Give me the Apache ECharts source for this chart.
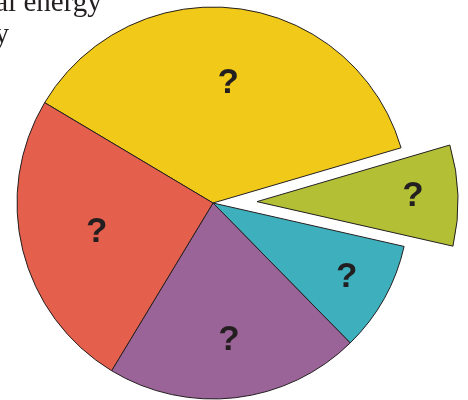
<!DOCTYPE html>
<html>
<head>
<meta charset="utf-8">
<script src="https://cdn.jsdelivr.net/npm/echarts@6/dist/echarts.min.js"></script>
<style>html,body{margin:0;padding:0;background:#fff;}#c{width:468px;height:400px;}</style>
</head>
<body>
<div id="c"></div>
<script>
// Data (clockwise from the yellow slice)
var categories = ['Slice A', 'Slice B', 'Slice C', 'Slice D', 'Slice E'];
var values = [36.9, 8.1, 9.1, 21.0, 24.9];
var labels = ['?', '?', '?', '?', '?'];
var exploded = [false, true, false, false, false];

// Styles
var colors = ['#F1C918', '#B3C036', '#3EB0BD', '#9B6498', '#E55F4D'];
var labelRadius = [118, 153, 150, 135, 117];
var titleLines = ['Total energy', 'by'];

var chart = echarts.init(document.getElementById('c'), null, {renderer: 'canvas'});
var CENTER = [213, 203];
var R = 196;
var R_EXPLODED = 201;
var START = 149.2;
var OFFSET = 44;
var BORDER = {borderColor: '#231f20', borderWidth: 1};
var HIDDEN = {color: 'rgba(0,0,0,0)', borderWidth: 0};

function makeData(visibleFn, showLabelIdx) {
  return categories.map(function (n, i) {
    return {
      name: n,
      value: values[i],
      selected: exploded[i],
      itemStyle: visibleFn(i) ? {color: colors[i], borderColor: BORDER.borderColor, borderWidth: BORDER.borderWidth} : HIDDEN,
      label: {show: showLabelIdx === i}
    };
  });
}

function pie(radius, data, z) {
  return {
    type: 'pie',
    center: CENTER,
    radius: radius,
    startAngle: START,
    clockwise: true,
    selectedMode: 'multiple',
    selectedOffset: OFFSET,
    avoidLabelOverlap: false,
    silent: true,
    animation: false,
    z: z,
    label: {
      position: 'inside',
      fontFamily: 'Liberation Sans, Arial, sans-serif',
      fontWeight: 'bold',
      fontSize: 35,
      color: '#231f20'
    },
    labelLine: {show: false},
    emphasis: {disabled: true},
    data: data
  };
}

var series = [
  pie(R, makeData(function (i) { return !exploded[i]; }, -1), 2),
  pie(R_EXPLODED, makeData(function (i) { return exploded[i]; }, -1), 2)
];

categories.forEach(function (n, i) {
  var s = pie([0, labelRadius[i] * 2], makeData(function () { return false; }, i), 3);
  s.label.formatter = labels[i];
  series.push(s);
});

chart.setOption({
  animation: false,
  title: [{
    text: titleLines[0],
    left: -43,
    top: -11,
    textStyle: {fontFamily: 'Liberation Serif, Times New Roman, serif', fontWeight: 'normal', fontSize: 29, lineHeight: 29, color: '#231f20'},
    padding: 0
  }, {
    text: titleLines[1],
    left: -20,
    top: 21,
    textStyle: {fontFamily: 'Liberation Serif, Times New Roman, serif', fontWeight: 'normal', fontSize: 29, lineHeight: 29, color: '#231f20'},
    padding: 0
  }],
  series: series
});
</script>
</body>
</html>
